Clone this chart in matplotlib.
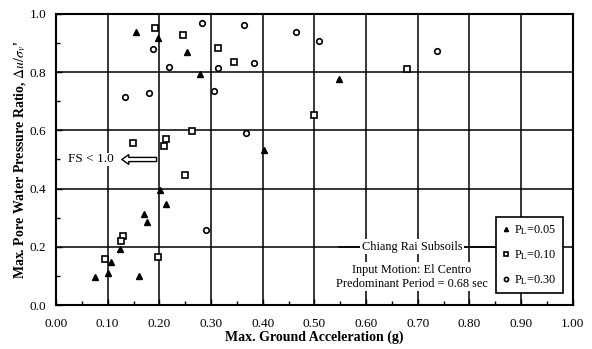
import matplotlib
matplotlib.use("Agg")
import matplotlib.pyplot as plt
from matplotlib.ticker import MultipleLocator

plt.rcParams['font.family'] = ['Liberation Serif', 'DejaVu Serif']
plt.rcParams['mathtext.fontset'] = 'stix'

# P_L = 0.05
tri_x = [0.155, 0.197, 0.253, 0.278, 0.403, 0.547, 0.202, 0.213, 0.171, 0.176,
         0.123, 0.106, 0.076, 0.101, 0.161]
tri_y = [0.939, 0.916, 0.870, 0.794, 0.533, 0.778, 0.395, 0.346, 0.312, 0.284,
         0.192, 0.149, 0.097, 0.109, 0.100]
# P_L = 0.10
sq_x = [0.192, 0.245, 0.313, 0.344, 0.499, 0.680, 0.263, 0.213, 0.208, 0.149,
        0.249, 0.129, 0.125, 0.094, 0.198]
sq_y = [0.951, 0.928, 0.884, 0.835, 0.653, 0.811, 0.599, 0.570, 0.546, 0.558,
        0.447, 0.238, 0.221, 0.159, 0.164]
# P_L = 0.30
circ_x = [0.282, 0.363, 0.464, 0.508, 0.187, 0.219, 0.313, 0.384, 0.134, 0.180,
          0.367, 0.738, 0.290, 0.305]
circ_y = [0.970, 0.962, 0.939, 0.908, 0.880, 0.817, 0.814, 0.832, 0.714, 0.730,
          0.592, 0.873, 0.258, 0.736]

labels = [r"P$_\mathrm{L}$=0.05", r"P$_\mathrm{L}$=0.10", r"P$_\mathrm{L}$=0.30"]

fig = plt.figure(figsize=(5.92, 3.49), dpi=100)
ax = fig.add_axes([0.0946, 0.126, 0.873, 0.834])

ax.set_xlim(0, 1.0)
ax.set_ylim(0, 1.0)
ax.xaxis.set_major_locator(MultipleLocator(0.1))
ax.xaxis.set_minor_locator(MultipleLocator(0.05))
ax.yaxis.set_major_locator(MultipleLocator(0.2))
ax.yaxis.set_minor_locator(MultipleLocator(0.1))
ax.xaxis.set_major_formatter(lambda v, p: f"{v:.2f}")
ax.yaxis.set_major_formatter(lambda v, p: f"{v:.1f}")
ax.grid(True, which='major', color='black', lw=1.1)
ax.tick_params(which='both', direction='in', labelsize=9.5, length=4, width=1)
ax.tick_params(which='minor', length=3)
ax.tick_params(axis='x', pad=9)
ax.tick_params(axis='y', pad=7)
for s in ax.spines.values():
    s.set_linewidth(1.5)

ms = 4
ax.plot(tri_x, tri_y, '^', color='black', ms=ms, ls='none', label=labels[0], zorder=3)
ax.plot(sq_x, sq_y, 's', mfc='white', mec='black', mew=1.2, ms=ms, ls='none',
        label=labels[1], zorder=3)
ax.plot(circ_x, circ_y, 'o', mfc='white', mec='black', mew=1.2, ms=ms, ls='none',
        label=labels[2], zorder=3)

leg = ax.legend(loc='lower right', bbox_to_anchor=(0.993, 0.02), fontsize=8.8,
                handlelength=0.6, handletextpad=0.4, labelspacing=0.95,
                borderpad=0.5, fancybox=False, framealpha=1, edgecolor='black',
                markerscale=0.75)
leg.get_frame().set_linewidth(1.2)

# FS < 1.0 arrow
ax.annotate('', xy=(0.122, 0.5), xytext=(0.2, 0.5),
            arrowprops=dict(arrowstyle='simple,head_width=0.7,head_length=0.5,tail_width=0.3',
                            fc='white', ec='black', lw=1))
ax.text(0.111, 0.5, 'FS < 1.0', ha='right', va='center', fontsize=9.5,
        bbox=dict(fc='white', ec='none', pad=0.5))

# analysis description
ax.plot([0.548, 0.855], [0.2, 0.2], color='black', lw=1.1, zorder=2)
ax.text(0.689, 0.2, 'Chiang Rai Subsoils', ha='center', va='center', fontsize=8.8,
        bbox=dict(fc='white', ec='none', pad=1), zorder=4)
ax.text(0.689, 0.122, 'Input Motion: El Centro', ha='center', va='center', fontsize=8.8,
        bbox=dict(fc='white', ec='none', pad=1), zorder=4)
ax.text(0.689, 0.072, 'Predominant Period = 0.68 sec', ha='center', va='center',
        fontsize=8.8, bbox=dict(fc='white', ec='none', pad=1), zorder=4)

ax.set_xlabel('Max. Ground Acceleration (g)', fontsize=10, fontweight='bold', labelpad=1)
ax.set_ylabel(r"Max. Pore Water Pressure Ratio, $\Delta u/\sigma_v$'", fontsize=10,
              fontweight='bold', labelpad=1)

fig.savefig('out.png', dpi=100)
